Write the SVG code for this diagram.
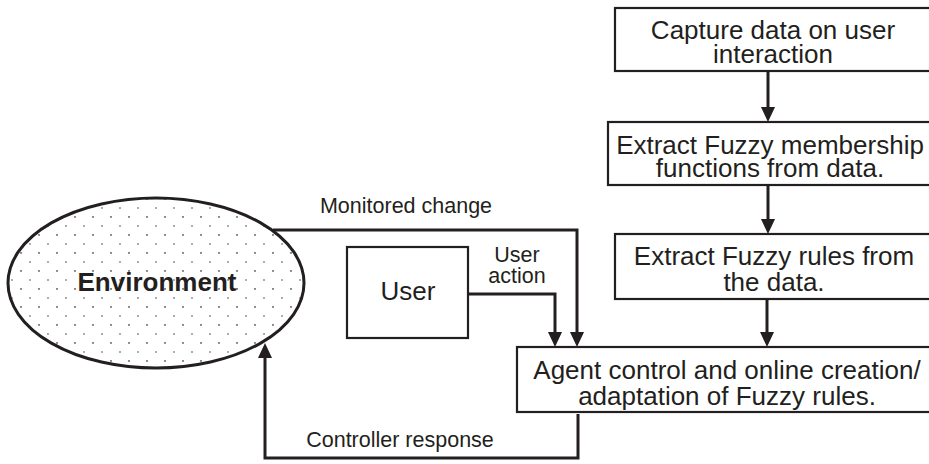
<svg xmlns="http://www.w3.org/2000/svg" width="929" height="464" viewBox="0 0 929 464">
<style>
  .box { fill: #ffffff; stroke: #231f20; stroke-width: 2.2; }
  .t { font-family: "Liberation Sans", Arial, sans-serif; font-size: 26px; fill: #231f20; text-anchor: middle; }
  .lbl { font-family: "Liberation Sans", Arial, sans-serif; font-size: 21.5px; fill: #231f20; text-anchor: middle; }
  .bold { font-weight: bold; }
  .conn { fill: none; stroke: #231f20; stroke-width: 3; marker-end: url(#arrow); }
  .plain { fill: none; stroke: #231f20; stroke-width: 3; }
</style>
<defs>
  <marker id="arrow" viewBox="0 0 15 14" refX="10" refY="7" markerWidth="15" markerHeight="14" markerUnits="userSpaceOnUse" orient="auto">
    <path d="M0,0 L15,7 L0,14 z" fill="#231f20"/>
  </marker>
  <pattern id="dots" patternUnits="userSpaceOnUse" width="18" height="18">
    <circle cx="3" cy="1" r="1.1" fill="#808080"/>
    <ellipse cx="12" cy="10" rx="0.55" ry="0.9" fill="#404040"/>
  </pattern>
</defs>
<rect width="929" height="464" fill="#ffffff"/>

<g id="connectors">
  <line class="conn" x1="768" y1="71" x2="768" y2="117"/>
  <line class="conn" x1="768" y1="185" x2="768" y2="229"/>
  <line class="conn" x1="767" y1="299" x2="767" y2="342"/>
  <polyline class="conn" points="273,230 577,230 577,342"/>
  <polyline class="conn" points="468,294 555,294 555,342"/>
  <polyline class="conn" points="578,414 578,458 265,458 265,348"/>
</g>

<g id="environment">
  <ellipse cx="156" cy="283" rx="148" ry="85" fill="url(#dots)" stroke="#231f20" stroke-width="3"/>
  <text class="t bold" x="157" y="291">Environment</text>
</g>

<g id="user">
  <rect class="box" x="347" y="247" width="121" height="91"/>
  <text class="t" x="408" y="300">User</text>
</g>

<g id="capture">
  <rect class="box" x="615" y="8" width="320" height="63"/>
  <text class="t" x="773" y="39">Capture data on user</text>
  <text class="t" x="773" y="63">interaction</text>
</g>

<g id="membership">
  <rect class="box" x="608" y="122" width="327" height="63"/>
  <text class="t" x="770" y="154">Extract Fuzzy membership</text>
  <text class="t" x="770" y="177">functions from data.</text>
</g>

<g id="rules">
  <rect class="box" x="615" y="234" width="320" height="65"/>
  <text class="t" x="774" y="265">Extract Fuzzy rules from</text>
  <text class="t" x="774" y="291">the data.</text>
</g>

<g id="agent">
  <rect class="box" x="517" y="347" width="420" height="65"/>
  <text class="t" x="727" y="379">Agent control and online creation/</text>
  <text class="t" x="727" y="405">adaptation of Fuzzy rules.</text>
</g>

<g id="labels">
  <text class="lbl" x="406" y="213">Monitored change</text>
  <text class="lbl" x="517" y="262">User</text>
  <text class="lbl" x="517" y="283">action</text>
  <text class="lbl" x="400" y="447">Controller response</text>
</g>
</svg>
